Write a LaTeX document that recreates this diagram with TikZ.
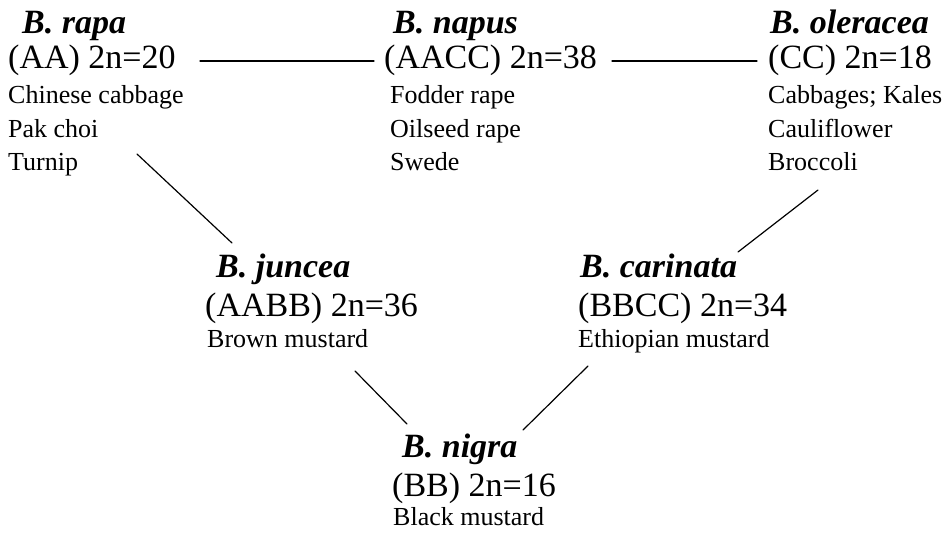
\documentclass[tikz,border=0pt]{standalone}
\usepackage{fontspec}
\setmainfont{Liberation Serif}
\begin{document}
\begin{tikzpicture}[x=1pt,y=-1pt,
  species/.style={anchor=base west,inner sep=0pt,font=\fontsize{34}{34}\selectfont\bfseries\itshape},
  genome/.style={anchor=base west,inner sep=0pt,font=\fontsize{34}{34}\selectfont},
  crop/.style={anchor=base west,inner sep=0pt,font=\fontsize{26}{26}\selectfont},
  link/.style={line width=1.2pt,line cap=round}]
\useasboundingbox (0,0) rectangle (952,533);

% B. rapa
\node[species] (rapa)   at (22,33)   {B. rapa};
\node[genome]  (rapaG)  at (8,68)    {(AA) 2n=20};
\node[crop]    (rapaA)  at (8,103)   {Chinese cabbage};
\node[crop]    (rapaB)  at (8,137)   {Pak choi};
\node[crop]    (rapaC)  at (8,170)   {Turnip};

% B. napus
\node[species] (napus)  at (393,33)  {B. napus};
\node[genome]  (napusG) at (384,68)  {(AACC) 2n=38};
\node[crop]    (napusA) at (390,103) {Fodder rape};
\node[crop]    (napusB) at (390,137) {Oilseed rape};
\node[crop]    (napusC) at (390,170) {Swede};

% B. oleracea
\node[species] (oler)   at (770,33)  {B. oleracea};
\node[genome]  (olerG)  at (768,68)  {(CC) 2n=18};
\node[crop]    (olerA)  at (768,103) {Cabbages; Kales};
\node[crop]    (olerB)  at (768,137) {Cauliflower};
\node[crop]    (olerC)  at (768,170) {Broccoli};

% B. juncea
\node[species] (junc)   at (216,277) {B. juncea};
\node[genome]  (juncG)  at (205,316) {(AABB) 2n=36};
\node[crop]    (juncA)  at (207,347) {Brown mustard};

% B. carinata
\node[species] (cari)   at (580,277) {B. carinata};
\node[genome]  (cariG)  at (578,316) {(BBCC) 2n=34};
\node[crop]    (cariA)  at (578,347) {Ethiopian mustard};

% B. nigra
\node[species] (nigra)  at (402,457) {B. nigra};
\node[genome]  (nigraG) at (392,496) {(BB) 2n=16};
\node[crop]    (nigraA) at (393,525) {Black mustard};

% connector end points
\coordinate (rnL) at (200,61);
\coordinate (rnR) at (374,61);
\coordinate (noL) at (612,61);
\coordinate (noR) at (757,61);
\coordinate (rjT) at (137,154);
\coordinate (rjB) at (232,243);
\coordinate (ocT) at (818,190);
\coordinate (ocB) at (738,252);
\coordinate (jnT) at (355,371);
\coordinate (jnB) at (407,424);
\coordinate (cnT) at (588,366);
\coordinate (cnB) at (523,430);

\draw[link] (rnL) -- (rnR);
\draw[link] (noL) -- (noR);
\draw[link] (rjT) -- (rjB);
\draw[link] (ocT) -- (ocB);
\draw[link] (jnT) -- (jnB);
\draw[link] (cnT) -- (cnB);
\end{tikzpicture}
\end{document}
